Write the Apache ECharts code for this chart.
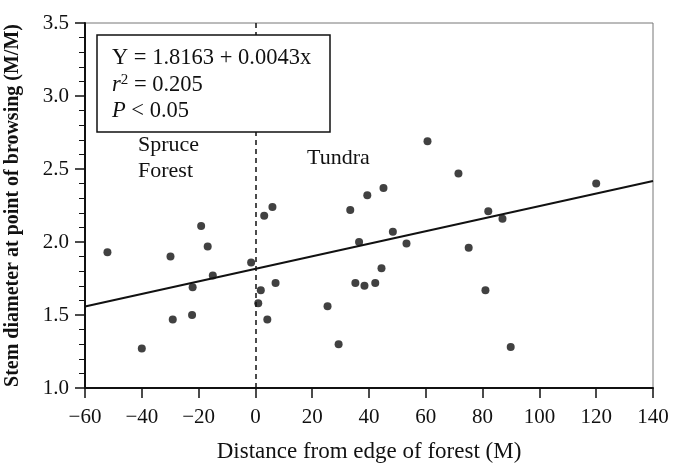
<!DOCTYPE html>
<html>
<head>
<meta charset="utf-8">
<script src="https://cdn.jsdelivr.net/npm/echarts@6/dist/echarts.min.js"></script>
<style>
  html, body { margin: 0; padding: 0; background: #fff; }
  #chart { width: 673px; height: 464px; }
</style>
</head>
<body>
<div id="chart"></div>
<script>
// distance from forest edge (M) and stem diameter at browsing point
var forestX = [-52.1, -40, -29.9, -29.1, -22.1, -22.3, -19.1, -16.8, -15, -1.5];
var forestY = [1.93, 1.27, 1.90, 1.47, 1.69, 1.50, 2.11, 1.97, 1.77, 1.86];
var tundraX = [1.0, 1.9, 3.1, 4.2, 6.0, 7.1, 25.4, 29.3, 33.4, 35.2, 36.5, 38.4, 39.4,
               42.2, 44.4, 45.1, 48.4, 53.2, 60.6, 71.5, 75.1, 81, 82, 87, 89.9, 120];
var tundraY = [1.58, 1.67, 2.18, 1.47, 2.24, 1.72, 1.56, 1.30, 2.22, 1.72, 2.00, 1.70, 2.32,
               1.72, 1.82, 2.37, 2.07, 1.99, 2.69, 2.47, 1.96, 1.67, 2.21, 2.16, 1.28, 2.40];
// fitted line Y = 1.8163 + 0.0043x at the axis ends
var fitX = [-60, 140];
var fitY = [1.558, 2.418];
var xTicks = [-60, -40, -20, 0, 20, 40, 60, 80, 100, 120, 140];
var yTicks = [1.0, 1.5, 2.0, 2.5, 3.0, 3.5];

var serif = '"Liberation Serif", "Times New Roman", serif';

var points = [];
forestX.forEach(function (x, i) { points.push([x, forestY[i]]); });
tundraX.forEach(function (x, i) { points.push([x, tundraY[i]]); });
var fitLine = fitX.map(function (x, i) { return [x, fitY[i]]; });

var chart = echarts.init(document.getElementById('chart'));

var option = {
	animation : false,
	backgroundColor : '#fff',
	grid : {
		left : 85,
		right : 20,
		top : 23,
		bottom : 76,
		outerBoundsMode : 'none',
		containLabel : false,
		show : true,
		borderColor : '#777',
		borderWidth : 1
	},
	xAxis : {
		type : 'value',
		min : xTicks[0],
		max : xTicks[xTicks.length - 1],
		interval : 20,
		name : 'Distance from edge of forest (M)',
		nameLocation : 'middle',
		nameGap : 52,
		nameTextStyle : { fontFamily : serif, fontSize : 23, color : '#111' },
		axisLine : { onZero : false, lineStyle : { color : '#111', width : 2 } },
		axisTick : { inside : false, length : 10, lineStyle : { color : '#111', width : 1.5 } },
		axisLabel : {
			margin : 19,
			fontFamily : serif,
			fontSize : 21,
			color : '#111',
			formatter : function (v) { return v < 0 ? '\u2212' + Math.abs(v) : String(v); }
		},
		splitLine : { show : false }
	},
	yAxis : {
		type : 'value',
		min : yTicks[0],
		max : yTicks[yTicks.length - 1],
		interval : 0.5,
		name : 'Stem diameter at point of browsing (M/M)',
		nameLocation : 'middle',
		nameGap : 62,
		nameTextStyle : { fontFamily : serif, fontSize : 20, fontWeight : 'bold', color : '#111' },
		axisLine : { onZero : false, lineStyle : { color : '#111', width : 2 } },
		axisTick : { inside : false, length : 10, lineStyle : { color : '#111', width : 1.5 } },
		minorTick : { show : true, splitNumber : 5, length : 6, lineStyle : { color : '#111', width : 1 } },
		axisLabel : {
			margin : 16,
			fontFamily : serif,
			fontSize : 21,
			color : '#111',
			formatter : function (v) { return v.toFixed(1); }
		},
		splitLine : { show : false }
	},
	series : [ {
		name : 'fit',
		type : 'line',
		data : fitLine,
		symbol : 'none',
		lineStyle : { color : '#111', width : 2 },
		z : 3
	}, {
		name : 'stems',
		type : 'scatter',
		data : points,
		symbol : 'circle',
		symbolSize : 8,
		itemStyle : { color : '#111' },
		z : 4,
		markLine : {
			silent : true,
			symbol : 'none',
			label : { show : false },
			lineStyle : { color : '#111', width : 1.5, type : [5, 4] },
			data : [ { xAxis : 0 } ]
		}
	} ],
	graphic : [ {
		type : 'rect',
		z : 100,
		shape : { x : 97, y : 35, width : 233, height : 97 },
		style : { fill : '#fff', stroke : '#111', lineWidth : 1.5 }
	}, {
		type : 'text',
		z : 101,
		style : {
			x : 112, y : 58, verticalAlign : 'middle',
			text : 'Y = 1.8163 + 0.0043x',
			font : '22.5px ' + serif, fill : '#111'
		}
	}, {
		type : 'text',
		z : 101,
		style : {
			x : 112, y : 85, verticalAlign : 'middle',
			text : '{i|r}{s|2}{n| = 0.205}',
			fill : '#111',
			rich : {
				i : { fontFamily : serif, fontSize : 22.5, fontStyle : 'italic', lineHeight : 24 },
				s : { fontFamily : serif, fontSize : 15, verticalAlign : 'top', lineHeight : 24 },
				n : { fontFamily : serif, fontSize : 22.5, lineHeight : 24 }
			}
		}
	}, {
		type : 'text',
		z : 101,
		style : {
			x : 112, y : 111, verticalAlign : 'middle',
			text : '{i|P}{n| < 0.05}',
			fill : '#111',
			rich : {
				i : { fontFamily : serif, fontSize : 22.5, fontStyle : 'italic' },
				n : { fontFamily : serif, fontSize : 22.5 }
			}
		}
	}, {
		type : 'text',
		z : 101,
		style : {
			x : 138, y : 158, verticalAlign : 'middle',
			text : 'Spruce\nForest', lineHeight : 26,
			font : '22px ' + serif, fill : '#111'
		}
	}, {
		type : 'text',
		z : 101,
		style : {
			x : 307, y : 158, verticalAlign : 'middle',
			text : 'Tundra',
			font : '22px ' + serif, fill : '#111'
		}
	} ]
};

chart.setOption(option);
</script>
</body>
</html>
